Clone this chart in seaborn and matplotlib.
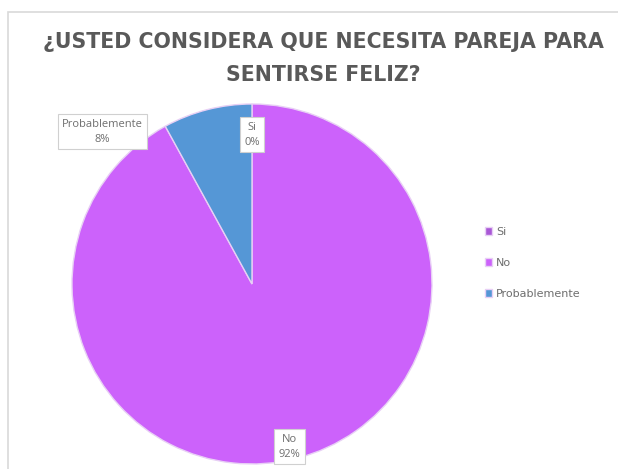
import matplotlib
matplotlib.use("Agg")
from matplotlib import pyplot as plt
from matplotlib.patches import Rectangle
import seaborn as sns

categories = ["Si", "No", "Probablemente"]
counts = [0, 23, 2]
percent_labels = ["0%", "92%", "8%"]
colors = ["#A958D6", "#CC62FB", "#5597D6"]

sns.set_theme(style="white")
plt.rcParams["font.family"] = ["Open Sans", "DejaVu Sans"]

fig = plt.figure(figsize=(6.18, 4.69), dpi=100)
fig.patch.set_facecolor("white")

# light frame around the chart area
fig.patches.append(Rectangle((0.013, -0.05), 1.2, 1.024, transform=fig.transFigure,
                             fill=False, edgecolor="#D9D9D9", linewidth=1.2))

fig.text(0.523, 0.875, "¿USTED CONSIDERA QUE NECESITA PAREJA PARA\nSENTIRSE FELIZ?",
         ha="center", va="center", fontsize=14.8, fontweight="bold",
         family="DejaVu Sans", color="#595959", linespacing=1.8)

ax = fig.add_axes([0.1165, 0.0107, 0.5825, 0.7676])
wedges, _ = ax.pie(counts, colors=colors, startangle=90, counterclock=False,
                   radius=1.0, wedgeprops=dict(edgecolor="#E8D0F5", linewidth=1))
ax.set_xlim(-1.0, 1.0)
ax.set_ylim(-1.0, 1.0)
ax.set_aspect("equal")
ax.axis("off")

label_pos = [(0.0, 0.83), (0.21, -0.905), (-0.83, 0.845)]
for cat, pct, (x, y) in zip(categories, percent_labels, label_pos):
    ax.text(x, y, f"{cat}\n{pct}", ha="center", va="center", fontsize=8,
            color="#6E6E6E", linespacing=1.5,
            bbox=dict(boxstyle="square,pad=0.4", facecolor="white",
                      edgecolor="#D0D0D0", linewidth=0.8))

leg = fig.legend(wedges, categories, loc="center left", bbox_to_anchor=(0.768, 0.44),
                 frameon=False, handlelength=0.7, handleheight=0.7,
                 handletextpad=0.35, labelspacing=1.9, labelcolor="#6E6E6E",
                 prop=dict(family="DejaVu Sans", size=8))

fig.savefig("out.png", dpi=100)
